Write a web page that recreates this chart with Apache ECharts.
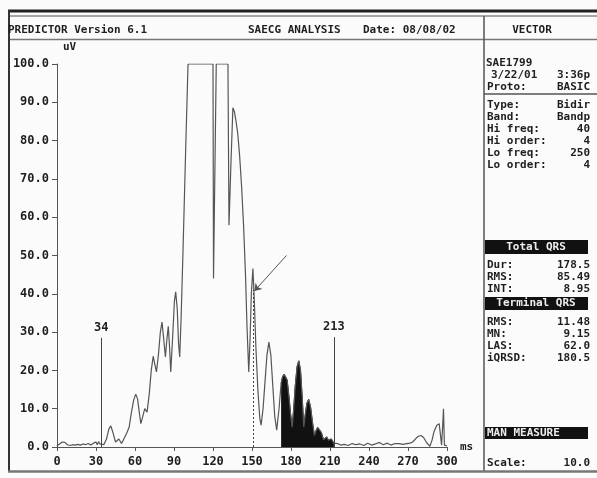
<!DOCTYPE html>
<html>
<head>
<meta charset="utf-8">
<script src="https://cdn.jsdelivr.net/npm/echarts@6/dist/echarts.min.js"></script>
<style>
  html, body { margin: 0; padding: 0; background: #fbfbfb; }
  #main { width: 597px; height: 478px; }
</style>
</head>
<body>
<div id="main"></div>
<script>
// signal averaged ECG trace, time in ms and amplitude in uV
var traceMs = [0, 2, 4, 6, 8, 10, 12, 14, 16, 18, 20, 22, 24, 26, 28, 30, 31, 32, 33, 34, 36, 38, 40, 41.4, 43, 45, 46.5, 47.6, 49.6, 51, 53, 54, 55.5, 57, 59, 60.6, 62, 63.5, 64.5, 66, 67.5, 69.3, 71, 72.5, 74, 75.3, 76.5, 78, 79.5, 80.8, 82, 83.4, 84.5, 85.6, 86.6, 87.5, 89, 90.3, 91.3, 92.5, 93.5, 94.4, 95.5, 97, 99, 100.8, 120, 120.4, 122.5, 131.5, 132.3, 133.8, 135.3, 136.5, 137.5, 139, 140.5, 142, 143.5, 145, 146.2, 147.5, 148.5, 149.5, 150.7, 151.8, 153, 154.5, 156, 157, 158.5, 160, 161.5, 163, 164.5, 166, 167.5, 169, 170.8];
var traceUv = [0.3, 0.8, 1.3, 1.2, 0.6, 0.4, 0.6, 0.5, 0.7, 0.5, 0.8, 0.6, 0.9, 0.5, 1.0, 1.3, 0.6, 1.4, 0.8, 0.5, 0.6, 2.0, 4.8, 5.5, 3.8, 1.3, 1.8, 2.1, 0.9, 1.8, 3.2, 3.9, 5.2, 8.5, 12.3, 13.8, 12.5, 8.5, 6.1, 8, 10, 9.1, 14, 20, 23.7, 21.5, 19.6, 24, 30, 32.6, 28.5, 23.5, 28, 31.5, 26, 19.6, 29, 38, 40.5, 36, 27, 23.5, 34, 52, 78, 100, 100, 44, 100, 100, 57.9, 74, 88.6, 87.5, 85.5, 82, 76, 68, 58, 45, 31, 19.6, 28, 40, 46.6, 38, 26, 15, 7.5, 5.7, 10, 17, 24, 27.4, 24, 16, 8, 4.4, 10];
// terminal part, drawn filled
var fillMs = [172.4, 173.5, 174.7, 175.8, 177, 178.3, 179.7, 180.9, 182, 183.3, 184.7, 186, 187.3, 188.6, 189.8, 191, 192.3, 193.6, 195, 196.5, 198, 199.2, 200.5, 201.8, 203.3, 205, 206.3, 207.5, 208.7, 210, 211, 212, 213];
var fillUv = [16.6, 18.3, 19, 19, 17.5, 13.5, 8.5, 5.2, 9.5, 16, 21, 22.5, 20, 13, 5.2, 8.5, 11.5, 12.4, 10.5, 6.5, 3, 4.2, 5.1, 5.2, 3.8, 1.9, 2.4, 2.6, 1.8, 1.3, 2.1, 2.3, 1.0];
var tailMs = [213, 214, 216, 218, 221, 224, 227, 230, 233, 236, 239, 242, 245, 248, 251, 254, 257, 260, 263, 266, 269, 271.5, 273.6, 276, 278, 280, 282, 284, 286.8, 288.5, 290, 292, 294, 295, 295.8, 296.6, 297.3, 298, 300];
var tailUv = [1.0, 0.5, 0.9, 0.5, 0.7, 0.4, 0.9, 0.6, 0.8, 0.4, 1.0, 0.5, 0.8, 1.2, 0.6, 1.0, 0.5, 0.9, 0.9, 0.7, 0.9, 1.0, 1.3, 2.2, 2.8, 3.0, 2.5, 1.3, 0.2, 1.8, 4, 5.6, 6.1, 3, 0.5, 5, 10, 0.5, 0.3];

var markerMs = [34, 213];
var markerTopUv = [28.5, 28.7];
var dottedMs = 151;
var dottedTopUv = 41;
var arrowFrom = [176.5, 50];
var arrowTo = [151.8, 40.7];

var headerLeft = 'PREDICTOR Version 6.1';
var headerMid = 'SAECG ANALYSIS';
var headerDate = 'Date: 08/08/02';
var panelTitle = 'VECTOR';

var infoLabels = ['Type:', 'Band:', 'Hi freq:', 'Hi order:', 'Lo freq:', 'Lo order:'];
var infoValues = ['Bidir', 'Bandp', '40', '4', '250', '4'];
var totalLabels = ['Dur:', 'RMS:', 'INT:'];
var totalValues = ['178.5', '85.49', '8.95'];
var termLabels = ['RMS:', 'MN:', 'LAS:', 'iQRSD:'];
var termValues = ['11.48', '9.15', '62.0', '180.5'];

function pairs (xs, ys) {
  return xs.map(function (x, i) { return [x, ys[i]]; });
}

var chartDom = document.getElementById('main');
var myChart = echarts.init(chartDom);

var mono = 'DejaVu Sans Mono';
var ink = '#1e1e1e';
var traceColor = '#555';

var line = pairs(traceMs, traceUv).concat(pairs(fillMs, fillUv)).concat(pairs(tailMs, tailUv).slice(1));

// right panel text
var panel = [];
function txt (x, y, s, align, color) {
  panel.push({
    type: 'text', x: x, y: y,
    style: { text: s, font: 'bold 11px "' + mono + '"', fill: color || ink, align: align || 'left', verticalAlign: 'middle' }
  });
}
function row (y, l, r) {
  txt(487, y, l, 'left');
  txt(590, y, r, 'right');
}
function blackBox (y, h, s, align) {
  panel.push({ type: 'rect', shape: { x: 485, y: y, width: 103, height: h }, style: { fill: '#111' } });
  txt(align === 'left' ? 487 : 536, y + h / 2, s, align || 'center', '#eee');
}

txt(8, 30, headerLeft);
txt(248, 30, headerMid);
txt(363, 30, headerDate);
txt(532, 30, panelTitle, 'center');

txt(486, 63, 'SAE1799');
txt(491, 75, '3/22/01');
txt(590, 75, '3:36p', 'right');
row(87, 'Proto:', 'BASIC');
infoLabels.forEach(function (l, i) { row(105 + i * 12, l, infoValues[i]); });
blackBox(240, 14, 'Total QRS');
totalLabels.forEach(function (l, i) { row(265 + i * 12, l, totalValues[i]); });
blackBox(297, 13, 'Terminal QRS');
termLabels.forEach(function (l, i) { row(322 + i * 12, l, termValues[i]); });
blackBox(427, 12, 'MAN MEASURE', 'left');
row(463, 'Scale:', '10.0');

var frame = [
  { type: 'line', shape: { x1: 8, y1: 11, x2: 597, y2: 11 }, style: { stroke: '#222', lineWidth: 3 } },
  { type: 'line', shape: { x1: 8, y1: 16, x2: 597, y2: 16 }, style: { stroke: '#888', lineWidth: 1.5 } },
  { type: 'line', shape: { x1: 8, y1: 39.5, x2: 597, y2: 39.5 }, style: { stroke: '#777', lineWidth: 1.5 } },
  { type: 'line', shape: { x1: 9, y1: 10, x2: 9, y2: 472 }, style: { stroke: '#333', lineWidth: 2 } },
  { type: 'line', shape: { x1: 484, y1: 16, x2: 484, y2: 472 }, style: { stroke: '#555', lineWidth: 1.5 } },
  { type: 'line', shape: { x1: 484, y1: 94, x2: 597, y2: 94 }, style: { stroke: '#555', lineWidth: 1.5 } },
  { type: 'line', shape: { x1: 8, y1: 471.5, x2: 597, y2: 471.5 }, style: { stroke: '#777', lineWidth: 2.5 } }
];

var option = {
  backgroundColor: '#fbfbfb',
  animation: false,
  textStyle: { fontFamily: mono },
  graphic: frame.concat(panel),
  grid: { left: 57, right: 150, top: 64, bottom: 31 },
  xAxis: {
    type: 'value', min: 0, max: 300, interval: 30,
    name: 'ms', nameLocation: 'end', nameGap: 13,
    nameTextStyle: { color: ink, fontSize: 11, fontWeight: 'bold', fontFamily: mono, padding: [16, 0, 0, 0] },
    axisLine: { lineStyle: { color: '#555', width: 1 } },
    axisTick: { length: 4, lineStyle: { color: '#555' } },
    axisLabel: { color: ink, fontSize: 12, fontWeight: 'bold', fontFamily: mono, margin: 9 },
    splitLine: { show: false }
  },
  yAxis: {
    type: 'value', min: 0, max: 100, interval: 10,
    name: 'uV', nameLocation: 'end', nameGap: 11,
    nameTextStyle: { color: ink, fontSize: 11, fontWeight: 'bold', fontFamily: mono, align: 'left', padding: [0, 0, 0, 6] },
    axisLine: { show: true, lineStyle: { color: '#555', width: 1 } },
    axisTick: { show: true, length: 5, lineStyle: { color: '#555' } },
    axisLabel: { color: ink, fontSize: 12, fontWeight: 'bold', fontFamily: mono, margin: 8, formatter: function (v) { return v.toFixed(1); } },
    splitLine: { show: false }
  },
  series: [
    {
      type: 'line', data: pairs(fillMs, fillUv), symbol: 'none',
      lineStyle: { color: '#111', width: 1 }, areaStyle: { color: '#111', opacity: 1 }, z: 2
    },
    {
      type: 'line', data: line, symbol: 'none',
      lineStyle: { color: traceColor, width: 1.2 }, z: 3,
      markLine: {
        silent: true, symbol: 'none',
        lineStyle: { color: '#444', width: 1, type: 'solid' },
        label: { show: true, position: 'end', color: ink, fontSize: 12, fontWeight: 'bold', fontFamily: mono, distance: 4 },
        data: markerMs.map(function (m, i) {
          return [{ coord: [m, 0] }, { coord: [m, markerTopUv[i]], label: { formatter: String(m) } }];
        })
      }
    },
    {
      type: 'line', data: [], symbol: 'none',
      markLine: {
        silent: true, symbol: 'none', label: { show: false },
        lineStyle: { color: '#444', width: 1, type: [2, 2] },
        data: [[{ coord: [dottedMs, 0] }, { coord: [dottedMs, dottedTopUv] }]]
      }
    },
    {
      type: 'line', data: [], symbol: 'none',
      markLine: {
        silent: true, symbol: ['none', 'arrow'], symbolSize: 7, label: { show: false },
        lineStyle: { color: '#555', width: 1, type: 'solid' },
        data: [[{ coord: arrowFrom }, { coord: arrowTo }]]
      }
    }
  ]
};

option && myChart.setOption(option);
</script>
</body>
</html>
